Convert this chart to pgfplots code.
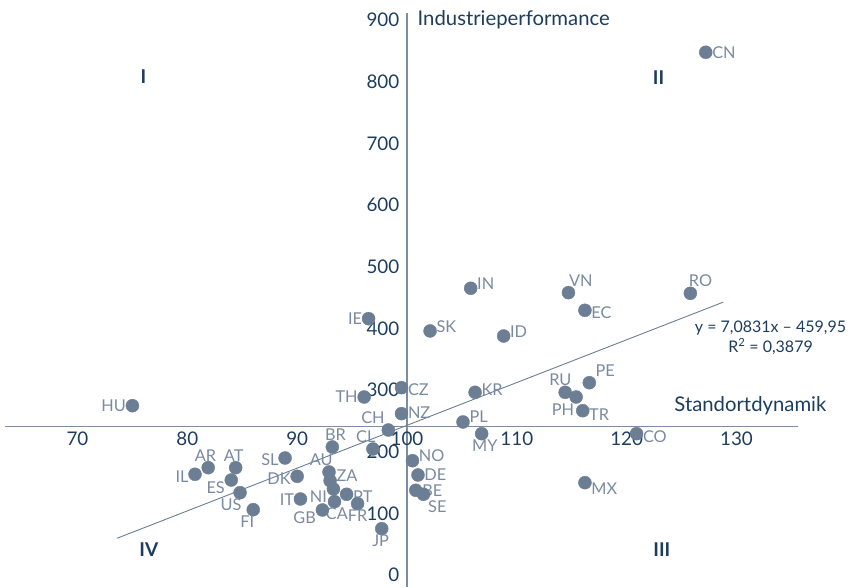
\documentclass[border=0pt]{standalone}
\usepackage{pgfplots}
\pgfplotsset{compat=1.18}
\usepackage{pgfplotstable}
\usepackage{fontspec}
\setmainfont{Lato}
\definecolor{dotcol}{HTML}{6C7E94}
\definecolor{labcol}{HTML}{7A8AA0}
\definecolor{navy}{HTML}{1D3D5E}
\definecolor{axcol}{HTML}{7A8DA2}

\pgfplotstableread{
x y lab
127.2 847.6 CN
125.8 456.8 RO
114.7 457.8 VN
116.2 429.2 EC
105.8 464.9 IN
96.5 415.6 IE
102.1 395.7 SK
108.8 387.5 ID
99.5 303.7 CZ
96.1 288.6 TH
106.2 296.2 KR
114.4 296.2 RU
115.4 288.6 PH
116.0 266.4 TR
116.6 311.8 PE
105.1 248.1 PL
99.5 261.6 NZ
98.3 235.1 CH
75.0 274.5 HU
106.8 229.1 MY
120.9 229.1 CO
100.5 185.3 NO
101.0 162.2 DE
100.8 137.3 BE
101.5 130.9 SE
116.2 149.7 MX
96.9 204.3 CL
93.2 207.6 BR
88.9 189.7 SL
81.9 174.0 AR
84.4 174.0 AT
80.7 163.3 IL
84.0 154.0 ES
84.8 133.5 US
86.0 105.9 FI
90.0 160.0 DK
90.3 123.2 IT
92.9 167.0 AU
93.0 152.9 ZA
93.3 139.5 NI
93.4 118.9 CA
94.5 130.9 PT
95.5 115.6 FR
92.3 105.4 GB
97.7 75.1 JP
}\countries

% label anchors (angle of the label's border point that sits on the dot)
\pgfkeys{/anc/.cd,
CN/.initial=180, RO/.initial=231, VN/.initial=225, EC/.initial=173, IN/.initial=196,
IE/.initial=0, SK/.initial=194, ID/.initial=195, CZ/.initial=175, TH/.initial=0,
KR/.initial=190, RU/.initial=291, PH/.initial=43, TR/.initial=167, PE/.initial=218,
PL/.initial=199, NZ/.initial=183, CH/.initial=321, HU/.initial=0, MY/.initial=104,
CO/.initial=170, NO/.initial=196, DE/.initial=182, BE/.initial=180, SE/.initial=138,
MX/.initial=163, CL/.initial=300, BR/.initial=256, SL/.initial=5, AR/.initial=282,
AT/.initial=279, IL/.initial=10, ES/.initial=26, US/.initial=54, FI/.initial=64,
DK/.initial=7, IT/.initial=4, AU/.initial=302, ZA/.initial=196, NI/.initial=27,
CA/.initial=101, PT/.initial=170, FR/.initial=90, GB/.initial=23, JP/.initial=85}

\begin{document}
\begin{tikzpicture}
\begin{axis}[
  width=793pt, height=574.3pt, scale only axis,
  xmin=63.4, xmax=135.6, ymin=-19.5, ymax=911.8,
  hide axis, clip=false,
]
\coordinate (bl) at (rel axis cs:0,0);
\coordinate (tr) at (rel axis cs:1,1);
% axis lines
\draw[axcol, line width=1.4pt] (axis cs:63.4,240.5) -- (axis cs:135.6,240.5);
\draw[axcol, line width=1.4pt] (axis cs:100,-19.5) -- (axis cs:100,911.8);
% tick labels
\pgfplotsinvokeforeach{70,80,90,100,110,120,130}{
  \node[anchor=north, inner sep=0pt, text=navy, font=\fontsize{18.8}{20}\selectfont, yshift=-5pt] at (axis cs:#1,240.5) {#1};
}
\pgfplotsinvokeforeach{0,100,200,300,400,500,600,700,800,900}{
  \node[anchor=east, inner sep=0pt, text=navy, font=\fontsize{18.8}{20}\selectfont, xshift=-7.5pt] at (axis cs:100,#1) {#1};
}
% axis titles
\node[anchor=west, inner sep=0pt, text=navy, font=\fontsize{20.3}{22}\selectfont, xshift=10.5pt] at (axis cs:100,900) {Industrieperformance};
\node[anchor=east, inner sep=0pt, text=navy, font=\fontsize{20.3}{22}\selectfont] at (axis cs:138.2,274) {Standortdynamik};
% quadrant labels
\node[text=navy, font=\fontsize{19}{20}\selectfont\bfseries] at (axis cs:76.0,807.5) {I};
\node[text=navy, font=\fontsize{19}{20}\selectfont\bfseries] at (axis cs:122.9,806) {II};
\node[text=navy, font=\fontsize{19}{20}\selectfont\bfseries] at (axis cs:123.2,40.5) {III};
\node[text=navy, font=\fontsize{19}{20}\selectfont\bfseries] at (axis cs:76.5,40.5) {IV};
% trend line
\addplot[dotcol, line width=0.9pt] coordinates {(73.6,59.5) (128.8,442.5)};
\node[align=center, text=navy, font=\fontsize{16}{20}\selectfont, inner sep=0pt] at (axis cs:133.1,384.3) {y = 7,0831x – 459,95\\R\textsuperscript{2} = 0,3879};
% points
\addplot[only marks, mark=*, mark size=6.5pt, mark options={draw=dotcol, fill=dotcol},
  nodes near coords, point meta=explicit symbolic,
  every node near coord/.append style={anchor=\pgfkeysvalueof{/anc/\pgfplotspointmeta}, outer sep=5.5pt, inner sep=1pt,
    text=labcol, font=\fontsize{16.3}{18}\selectfont}]
  table[x=x, y=y, meta=lab] {\countries};
\end{axis}
\pgfresetboundingbox
\path[use as bounding box] ([xshift=-5pt]bl) rectangle ([xshift=54pt,yshift=12.7pt]tr);
\end{tikzpicture}
\end{document}
